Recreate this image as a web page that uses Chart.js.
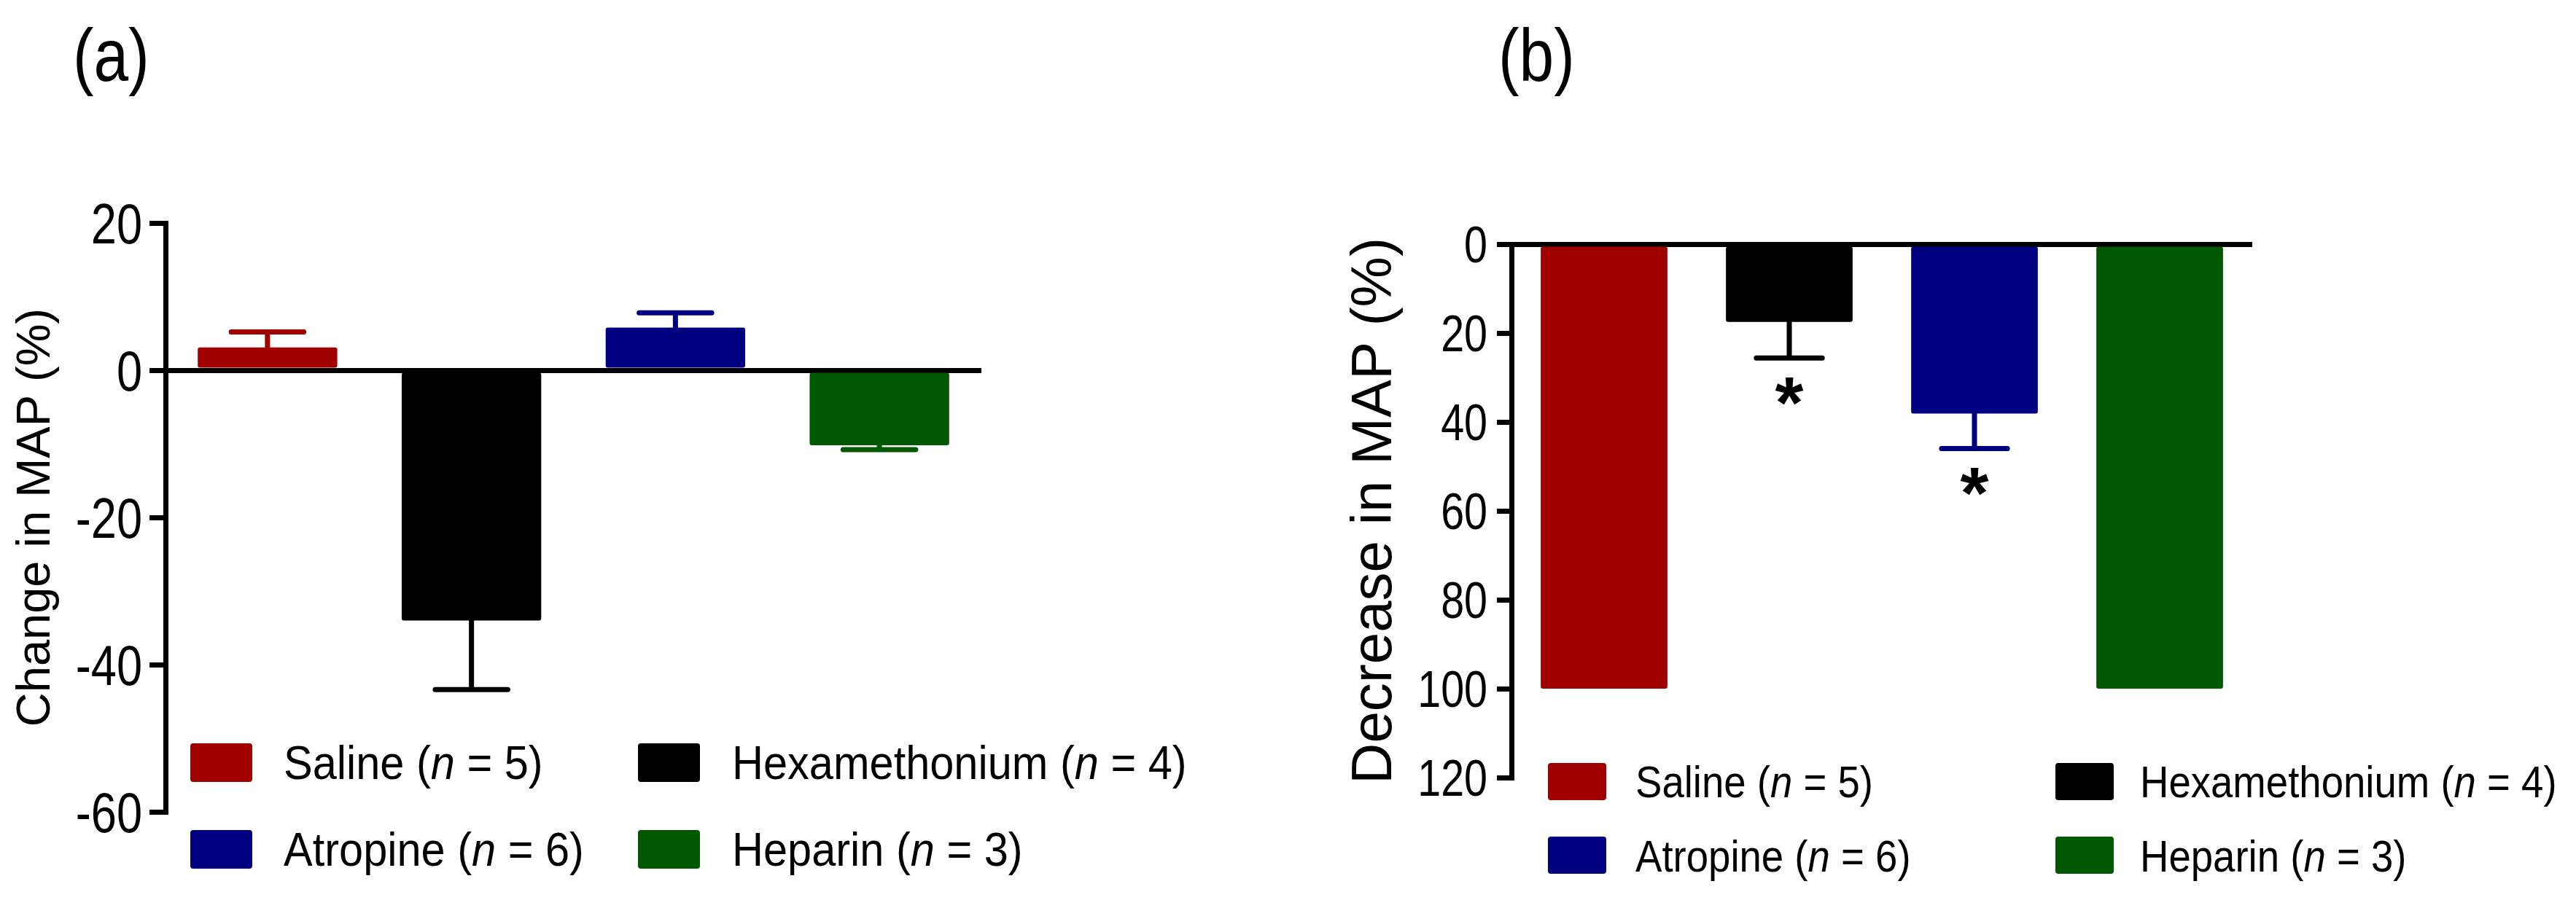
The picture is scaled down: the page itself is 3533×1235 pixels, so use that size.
<!DOCTYPE html>
<html>
<head>
<meta charset="utf-8">
<script src="https://cdn.jsdelivr.net/npm/chart.js@4.4.1/dist/chart.umd.min.js"></script>
<style>
html, body { margin: 0; padding: 0; background: #fff; }
body { width: 3533px; height: 1235px; position: relative; overflow: hidden; }
#chartA { position: absolute; left: 0; top: 0; }
#chartB { position: absolute; left: 1766px; top: 0; }
</style>
</head>
<body>
<canvas id="chartA" width="1766" height="1235"></canvas>
<canvas id="chartB" width="1767" height="1235"></canvas>
<script>
"use strict";
var groups = ['Saline', 'Hexamethonium', 'Atropine', 'Heparin'];
var groupN = [5, 4, 6, 3];
var colors = ['#a00000', '#000000', '#000080', '#005800'];

// (a) change in MAP, mean and SEM
var changeMean = [3.1, -34.0, 5.8, -10.2];
var changeSem = [2.1, 9.4, 2.0, 0.6];
var ticksA = [20, 0, -20, -40, -60];

// (b) decrease in MAP, mean and SEM
var decreaseMean = [100, 17.5, 38.1, 100];
var decreaseSem = [0, 8.1, 7.9, 0];
var significant = [false, true, true, false];
var ticksB = [0, 20, 40, 60, 80, 100, 120];

var sans = "'Liberation Sans', Arial, sans-serif";

// text squeezed horizontally (the figure uses a narrow Arial)
function drawParts(ctx, x, y, parts, font, sx, align) {
    ctx.save();
    ctx.translate(x, y);
    ctx.scale(sx, 1);
    var total = 0;
    parts.forEach(function(p) {
        ctx.font = (p.italic ? 'italic ' : '') + font;
        total += ctx.measureText(p.text).width;
    });
    var cx = align === 'right' ? -total : 0;
    ctx.textAlign = 'left';
    parts.forEach(function(p) {
        ctx.font = (p.italic ? 'italic ' : '') + font;
        ctx.fillText(p.text, cx, 0);
        cx += ctx.measureText(p.text).width;
    });
    ctx.restore();
}

/* error bars + asterisks */
var errorBars = {
    id: 'errorBars',
    afterDatasetsDraw: function(chart, args, opts) {
        var ctx = chart.ctx;
        var ds = chart.data.datasets[0];
        var yScale = chart.scales.y;
        var meta = chart.getDatasetMeta(0);
        ctx.save();
        ctx.lineWidth = 7;
        ctx.lineCap = 'round';
        meta.data.forEach(function(bar, i) {
            var v = ds.data[i];
            var sem = opts.sem[i];
            var end = v >= 0 ? v + sem : v - sem;
            if (sem) {
                var y0 = yScale.getPixelForValue(v);
                var y1 = yScale.getPixelForValue(end);
                var half = bar.width * 0.26;
                ctx.strokeStyle = ds.backgroundColor[i];
                ctx.beginPath();
                ctx.moveTo(bar.x, y0);
                ctx.lineTo(bar.x, y1);
                ctx.moveTo(bar.x - half, y1);
                ctx.lineTo(bar.x + half, y1);
                ctx.stroke();
            }
            if (opts.marks && opts.marks[i]) {
                ctx.font = 'bold 100px ' + sans;
                ctx.fillStyle = '#000';
                ctx.textAlign = 'center';
                ctx.textBaseline = 'alphabetic';
                var m = ctx.measureText('*');
                var cy = yScale.getPixelForValue(end + 7.5);
                var base = cy + (m.actualBoundingBoxAscent - m.actualBoundingBoxDescent) / 2;
                ctx.fillText('*', bar.x, base);
            }
        });
        ctx.restore();
    }
};

/* y tick labels in narrow type, placed by the y scale */
var narrowTicks = {
    id: 'narrowTicks',
    afterDraw: function(chart, args, o) {
        var ctx = chart.ctx;
        var s = chart.scales.y;
        var x = s.right - s.options.grid.tickLength - o.pad;
        ctx.save();
        ctx.fillStyle = '#000';
        ctx.textBaseline = 'alphabetic';
        s.ticks.forEach(function(t) {
            var y = s.getPixelForValue(t.value) + o.size * 0.358;
            drawParts(ctx, x, y, [{text: String(t.value)}], o.size + 'px ' + sans, 0.82, 'right');
        });
        ctx.restore();
    }
};

/* 2x2 legend and panel letter */
var legendGrid = {
    id: 'legendGrid',
    afterDraw: function(chart, args, o) {
        var ctx = chart.ctx;
        ctx.save();
        ctx.fillStyle = '#000';
        ctx.textBaseline = 'alphabetic';
        drawParts(ctx, o.letterX, o.letterY, [{text: o.letter}], '102px ' + sans, 0.84);
        groups.forEach(function(g, i) {
            var col = i % 2, row = Math.floor(i / 2);
            ctx.fillStyle = colors[i];
            ctx.beginPath();
            if (ctx.roundRect) {
                ctx.roundRect(o.boxX[col], o.boxY[row], o.boxW, o.boxH, 4);
            } else {
                ctx.rect(o.boxX[col], o.boxY[row], o.boxW, o.boxH);
            }
            ctx.fill();
            ctx.fillStyle = '#000';
            drawParts(ctx, o.textX[col], o.baseY[row], [
                {text: g + ' ('},
                {text: 'n', italic: true},
                {text: ' = ' + groupN[i] + ')'}
            ], o.font, o.sx);
        });
        ctx.restore();
    }
};

function yAxis(min, max, ticks, reverse, width, tickLen, title, titleSize, titlePad) {
    return {
        min: min,
        max: max,
        reverse: reverse,
        afterBuildTicks: function(s) {
            s.ticks = ticks.map(function(v) { return {value: v}; });
        },
        afterFit: function(s) { s.width = width; },
        border: {display: true, color: '#000', width: 7},
        grid: {
            color: function(c) { return c.tick && c.tick.value === 0 ? '#000' : 'rgba(0,0,0,0)'; },
            lineWidth: 7,
            tickColor: '#000',
            tickLength: tickLen,
            tickWidth: 7
        },
        ticks: {display: false},
        title: {
            display: true,
            text: title,
            color: '#000',
            font: {family: sans, size: titleSize},
            padding: {top: titlePad, bottom: 0}
        }
    };
}

var chartA = new Chart(document.getElementById('chartA'), {
    type: 'bar',
    data: {
        labels: groups,
        datasets: [{
            data: changeMean,
            backgroundColor: colors,
            borderRadius: 3,
            borderSkipped: false,
            barPercentage: 0.684,
            categoryPercentage: 1
        }]
    },
    options: {
        responsive: false,
        animation: false,
        devicePixelRatio: 1,
        layout: {padding: {left: 0, top: 306, right: 420, bottom: 121}},
        plugins: {
            legend: {display: false},
            tooltip: {enabled: false},
            errorBars: {sem: changeSem},
            narrowTicks: {size: 77, pad: 10},
            legendGrid: {
                letter: '(a)', letterX: 100, letterY: 111,
                boxX: [261, 875], boxY: [1020, 1139], boxW: 85, boxH: 53,
                textX: [389, 1004], baseY: [1069, 1188],
                font: '64px ' + sans, sx: 0.93
            }
        },
        scales: {
            x: {display: false, offset: true},
            y: yAxis(-60, 20, ticksA, false, 227, 22, 'Change in MAP (%)', 65, 11)
        }
    },
    plugins: [errorBars, narrowTicks, legendGrid]
});

var chartB = new Chart(document.getElementById('chartB'), {
    type: 'bar',
    data: {
        labels: groups,
        datasets: [{
            data: decreaseMean,
            backgroundColor: colors,
            borderRadius: 3,
            borderSkipped: false,
            barPercentage: 0.684,
            categoryPercentage: 1
        }]
    },
    options: {
        responsive: false,
        animation: false,
        devicePixelRatio: 1,
        layout: {padding: {left: 0, top: 335, right: 444, bottom: 168}},
        plugins: {
            legend: {display: false},
            tooltip: {enabled: false},
            errorBars: {sem: decreaseSem, marks: significant},
            narrowTicks: {size: 70, pad: 13},
            legendGrid: {
                letter: '(b)', letterX: 289, letterY: 111,
                boxX: [357, 1053], boxY: [1047, 1148], boxW: 80, boxH: 51,
                textX: [477, 1169], baseY: [1094, 1196],
                font: '62px ' + sans, sx: 0.88
            }
        },
        scales: {
            x: {display: false, offset: true},
            y: yAxis(0, 120, ticksB, true, 307, 20, 'Decrease in MAP (%)', 78, 74)
        }
    },
    plugins: [errorBars, narrowTicks, legendGrid]
});
</script>
</body>
</html>
